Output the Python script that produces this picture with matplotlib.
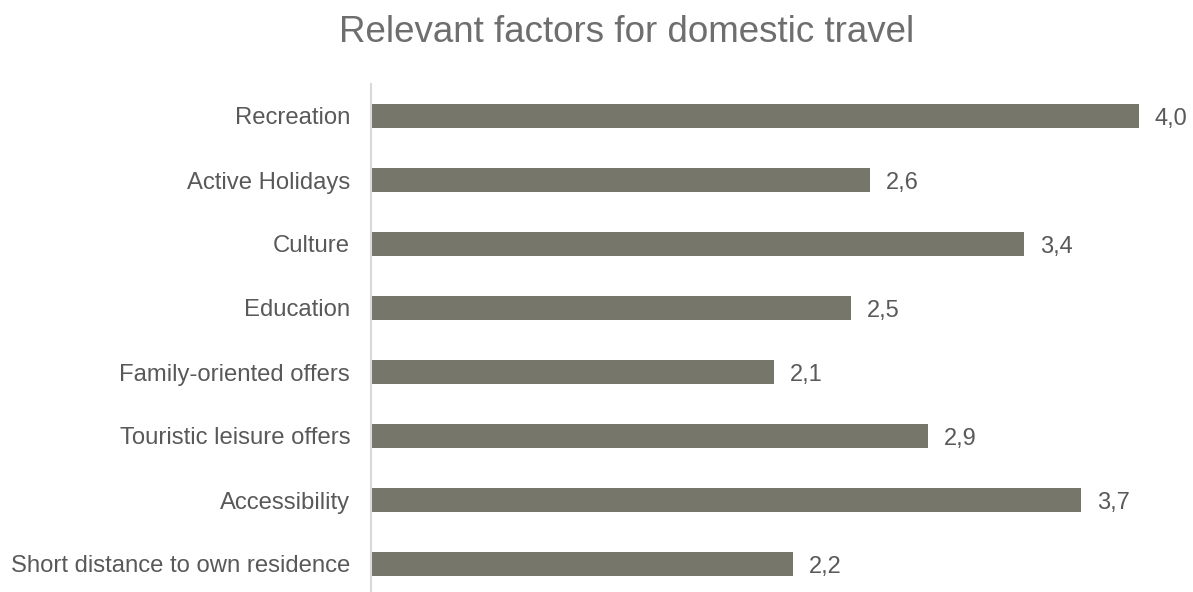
import matplotlib.pyplot as plt

plt.rcParams['font.family'] = ['Liberation Sans', 'DejaVu Sans']

# factors, top to bottom
factors = ['Recreation', 'Active Holidays', 'Culture', 'Education',
           'Family-oriented offers', 'Touristic leisure offers',
           'Accessibility', 'Short distance to own residence']
scores = [4.0, 2.6, 3.4, 2.5, 2.1, 2.9, 3.7, 2.2]

bar_color = '#76776a'
text_color = '#595959'

fig = plt.figure(figsize=(11.93, 5.92), dpi=100, facecolor='white')
ax = fig.add_axes([371 / 1193, 0, 822 / 1193, 508 / 592])

pos = list(range(len(factors)))
ax.barh(pos, scores, height=0.36, color=bar_color)
for p, v in zip(pos, scores):
    ax.text(v + 0.083, p, ('%.1f' % v).replace('.', ','), va='center_baseline',
            ha='left', fontsize=17, color=text_color)

ax.set_xlim(0, 822 / 192)
ax.set_ylim(7.4375, -0.5)
ax.set_yticks(pos)
ax.set_yticklabels(factors, fontsize=17.2, color=text_color)
ax.tick_params(axis='y', length=0, pad=15)
ax.set_xticks([])
for s in ['top', 'right', 'bottom']:
    ax.spines[s].set_visible(False)
ax.spines['left'].set_color('#d9d9d9')
ax.spines['left'].set_linewidth(1.5)

fig.text(627 / 1193, 1 - 42 / 592, 'Relevant factors for domestic travel',
         ha='center', va='baseline', fontsize=26.5, color='#6e6e6e')

fig.savefig('out.png', dpi=100)
